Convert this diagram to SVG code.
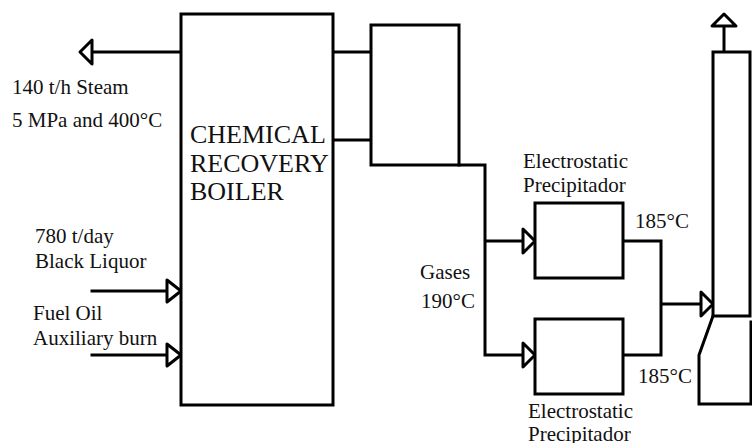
<svg xmlns="http://www.w3.org/2000/svg" width="752" height="443" viewBox="0 0 752 443">
<style>
.s{fill:none;stroke:#000;stroke-width:3;stroke-linejoin:miter;stroke-linecap:square}
.box{fill:#fff;stroke:#000;stroke-width:3}
.ah{fill:#fff;stroke:#000;stroke-width:3;stroke-linejoin:round}
.t{font-family:"Liberation Serif","Times New Roman",serif;font-size:21px;fill:#111}
.b{font-family:"Liberation Serif","Times New Roman",serif;font-size:26px;fill:#111}
</style>
<rect width="752" height="443" fill="#fff"/>
<g id="connectors">
<path class="s" d="M181,52 H92"/>
<polygon class="ah" points="80,52 92,40 92,64"/>
<path class="s" d="M333,52 H371 M333,140 H371"/>
<path class="s" d="M459,165 H485 V355 M485,241 H523 M485,355 H523"/>
<polygon class="ah" points="535,241 523,229 523,253"/>
<polygon class="ah" points="535,355 523,343 523,367"/>
<path class="s" d="M623,241 H661 V355 H623 M661,304 H701"/>
<polygon class="ah" points="713,304 701,292 701,316"/>
<path class="s" d="M724,52 V26"/>
<polygon class="ah" points="724,14 712,26 736,26"/>
<path class="s" d="M92,291 H167 M92,355 H167"/>
<polygon class="ah" points="181,291 167,280 167,302"/>
<polygon class="ah" points="181,355 167,344 167,366"/>
</g>
<g id="boiler">
<rect class="box" x="181" y="14" width="152" height="391"/>
<text class="b" x="190" y="143">CHEMICAL</text>
<text class="b" x="190" y="172">RECOVERY</text>
<text class="b" x="190" y="200">BOILER</text>
</g>
<g id="economizer">
<rect class="box" x="371" y="25" width="88" height="140"/>
</g>
<g id="esp1">
<rect class="box" x="535" y="203" width="88" height="75"/>
<text class="t" x="523" y="168">Electrostatic</text>
<text class="t" x="523" y="192">Precipitador</text>
</g>
<g id="esp2">
<rect class="box" x="535" y="319" width="88" height="75"/>
<text class="t" x="528" y="418">Electrostatic</text>
<text class="t" x="528" y="441">Precipitador</text>
</g>
<g id="stack">
<rect class="box" x="713" y="52" width="37" height="264"/>
<path class="s" d="M713,316 L699,355 V404 H752 M751,322 V404"/>
</g>
<g id="labels">
<text class="t" x="12" y="94">140 t/h Steam</text>
<text class="t" x="12" y="127">5 MPa and 400°C</text>
<text class="t" x="35" y="243">780 t/day</text>
<text class="t" x="35" y="268">Black Liquor</text>
<text class="t" x="33" y="320">Fuel Oil</text>
<text class="t" x="33" y="345">Auxiliary burn</text>
<text class="t" x="420" y="279">Gases</text>
<text class="t" x="421" y="308">190°C</text>
<text class="t" x="635" y="228">185°C</text>
<text class="t" x="638" y="383">185°C</text>
</g>
</svg>
